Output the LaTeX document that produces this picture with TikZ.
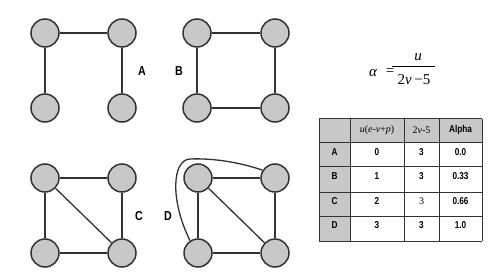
\documentclass[tikz,border=0pt]{standalone}
\usepackage{fontspec}
\setmainfont{Liberation Serif}
\newfontfamily\lblfont{Liberation Sans}
\definecolor{nodegray}{HTML}{C8C8C8}
\definecolor{ink}{HTML}{333333}
\tikzset{
  vtx/.style={circle,draw=ink,fill=nodegray,line width=1.5pt,minimum size=28pt,inner sep=0pt},
  edge/.style={draw=ink,line width=1.3pt},
  glabel/.style={font=\lblfont\bfseries\fontsize{13}{14}\selectfont,text=black,inner sep=0pt},
  tcell/.style={font=\lblfont\bfseries\fontsize{10}{11}\selectfont,text=black,inner sep=0pt},
  tser/.style={font=\fontsize{10}{12}\selectfont,text=black,inner sep=0pt},
  fml/.style={font=\fontsize{15}{16}\selectfont,text=black,inner sep=0pt},
  grid/.style={draw=ink,line width=1pt}
}
\newcommand{\cond}[1]{\scalebox{0.82}[1]{#1}}
\begin{document}
\begin{tikzpicture}[x=1pt,y=-1pt]
\useasboundingbox (0,0) rectangle (502,272);
% Graph A
\node[vtx] (a1) at (45,33) {};
\node[vtx] (a2) at (122,33) {};
\node[vtx] (a3) at (45,108) {};
\node[vtx] (a4) at (122,108) {};
\draw[edge] (a1) -- (a2);
\draw[edge] (a1) -- (a3);
\draw[edge] (a2) -- (a4);
\node[glabel] (la) at (142,71) {\cond{A}};
% Graph B
\node[vtx] (b1) at (197,33) {};
\node[vtx] (b2) at (275,33) {};
\node[vtx] (b3) at (197,108) {};
\node[vtx] (b4) at (275,108) {};
\draw[edge] (b1) -- (b2);
\draw[edge] (b1) -- (b3);
\draw[edge] (b2) -- (b4);
\draw[edge] (b3) -- (b4);
\node[glabel] (lb) at (179,71) {\cond{B}};
% Graph C
\node[vtx] (c1) at (45,178) {};
\node[vtx] (c2) at (122,178) {};
\node[vtx] (c3) at (45,253) {};
\node[vtx] (c4) at (122,253) {};
\draw[edge] (c1) -- (c2);
\draw[edge] (c1) -- (c3);
\draw[edge] (c2) -- (c4);
\draw[edge] (c3) -- (c4);
\draw[edge] (c1) -- (c4);
\node[glabel] (lc) at (139,216) {\cond{C}};
% Graph D
\node[vtx] (d1) at (198,178) {};
\node[vtx] (d2) at (275,178) {};
\node[vtx] (d3) at (198,253) {};
\node[vtx] (d4) at (275,253) {};
\draw[edge] (d1) -- (d2);
\draw[edge] (d1) -- (d3);
\draw[edge] (d2) -- (d4);
\draw[edge] (d3) -- (d4);
\draw[edge] (d1) -- (d4);
\coordinate (peak) at (190,159);
\draw[edge] (d3.123) .. controls (170,200) and (172,160) .. (peak) .. controls (215,158) and (242,163) .. (d2.148);
\node[glabel] (ld) at (168,216) {\cond{D}};
% Formula
\node[fml] (alpha) at (373,73) {\itshape α};
\node[fml] (eq) at (390,72) {=};
\coordinate (barL) at (392,66);
\coordinate (barR) at (435,66);
\draw[line width=0.7pt] (barL) -- (barR);
\node[fml] (num) at (418,57) {\itshape u};
\node[fml] (den) at (414,80) {2\textit{v}\,−5};
% Table
\fill[nodegray] (319,119) rectangle (482,143);
\fill[nodegray] (319,143) rectangle (350,241);
\foreach \x in {319,350,404,439,482} \draw[grid] (\x,119) -- (\x,241);
\foreach \y in {119,143,167,192,216,241} \draw[grid] (319,\y) -- (482,\y);
\node[tser] (h2) at (377,130) {\textit{u}(\textit{e}-\textit{v}+\textit{p})};
\node[tser] (h3) at (421.5,130) {2\textit{v}-5};
\node[tcell] (h4) at (460.5,130) {\cond{Alpha}};
\node[tcell] (r1) at (334.5,152) {\cond{A}};
\node[tcell] (r2) at (334.5,176) {\cond{B}};
\node[tcell] (r3) at (334.5,201) {\cond{C}};
\node[tcell] (r4) at (334.5,225) {\cond{D}};
\node[tcell] (u1) at (377,152) {\cond{0}};
\node[tcell] (u2) at (377,176) {\cond{1}};
\node[tcell] (u3) at (377,201) {\cond{2}};
\node[tcell] (u4) at (377,225) {\cond{3}};
\node[tcell] (v1) at (421.5,152) {\cond{3}};
\node[tcell] (v2) at (421.5,176) {\cond{3}};
\node[tser] (v3) at (421.5,201) {3};
\node[tcell] (v4) at (421.5,225) {\cond{3}};
\node[tcell] (w1) at (460.5,152) {\cond{0.0}};
\node[tcell] (w2) at (460.5,176) {\cond{0.33}};
\node[tcell] (w3) at (460.5,201) {\cond{0.66}};
\node[tcell] (w4) at (460.5,225) {\cond{1.0}};
\end{tikzpicture}
\end{document}
